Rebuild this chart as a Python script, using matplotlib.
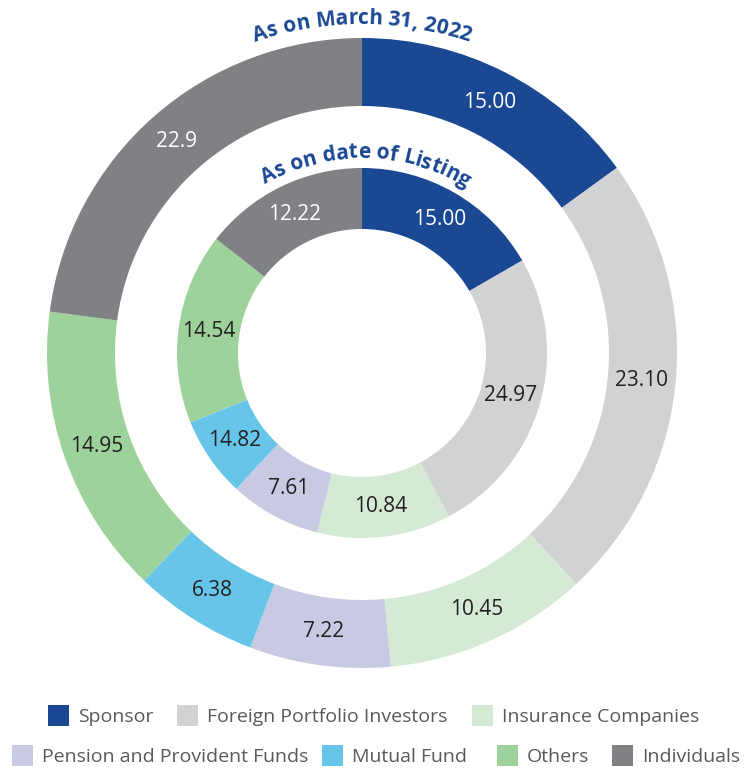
import numpy as np
import matplotlib
matplotlib.use("Agg")
import matplotlib.pyplot as plt
from matplotlib import font_manager as fm
from matplotlib.ft2font import FT2Font
from matplotlib.patches import Rectangle

# Shareholding pattern (%)
categories = ["Sponsor", "Foreign Portfolio Investors", "Insurance Companies",
              "Pension and Provident Funds", "Mutual Fund", "Others", "Individuals"]
colors = ["#1b4893", "#d1d2d4", "#d5ead5", "#c8c9e2", "#68c5ea", "#9ed29b", "#808184"]

# outer ring: as on March 31, 2022
outer_values = [15.00, 23.10, 10.45, 7.22, 6.38, 14.95, 22.9]
outer_labels = ["15.00", "23.10", "10.45", "7.22", "6.38", "14.95", "22.9"]

# inner ring: as on date of listing (slice sizes as drawn, labels as printed)
inner_share = [16.67, 25.56, 11.68, 7.97, 6.99, 16.69, 14.44]
inner_labels = ["15.00", "24.97", "10.84", "7.61", "14.82", "14.54", "12.22"]

BLUE = "#1b4893"
W, H = 744, 769
cx, cy = 362, H - 353

fig = plt.figure(figsize=(W / 100, H / 100), dpi=100)
ax = fig.add_axes([0, 0, 1, 1])

label_fp = fm.FontProperties(family="Open Sans", size=15)
title_fp = fm.FontProperties(family="Open Sans", weight="bold", size=15)
legend_fp = fm.FontProperties(family="Open Sans", size=14)


def ring(values, labels, r_out, width):
    wedges, _ = ax.pie(values, radius=r_out, center=(cx, cy), startangle=90,
                       counterclock=False, colors=colors,
                       wedgeprops=dict(width=width, linewidth=0))
    r_lab = r_out - width / 2
    for w, lab, col in zip(wedges, labels, colors):
        th = np.radians((w.theta1 + w.theta2) / 2)
        tc = "white" if col in ("#1b4893", "#808184") else "#231f20"
        ax.text(cx + r_lab * np.cos(th), cy + r_lab * np.sin(th), lab,
                fontproperties=label_fp, color=tc, ha="center", va="center")


def arc_text(text, radius, mid_deg, fp, color):
    font = FT2Font(fm.findfont(fp))
    font.set_size(fp.get_size_in_points(), 100)
    adv = [font.load_char(ord(c)).linearHoriAdvance / 65536 for c in text]
    pos = -sum(adv) / 2
    for c, a in zip(text, adv):
        th = np.radians(mid_deg) - (pos + a / 2) / radius
        ax.text(cx + radius * np.cos(th), cy + radius * np.sin(th), c,
                fontproperties=fp, color=color, rotation=np.degrees(th) - 90,
                rotation_mode="anchor", ha="center", va="baseline")
        pos += a


ring(outer_values, outer_labels, 315, 68)
ring(inner_share, inner_labels, 185, 61)

arc_text("As on March 31, 2022", 329, 90, title_fp, BLUE)
arc_text("As on date of Listing", 195, 88.8, title_fp, BLUE)

# legend, two rows
box_x = [48, 177, 472, 12, 322, 497, 612]
row_top = [705, 705, 705, 745, 745, 745, 745]
for name, col, x, yt in zip(categories, colors, box_x, row_top):
    ax.add_patch(Rectangle((x, H - yt - 21), 21, 21, color=col, lw=0))
    ax.text(x + 30, H - yt - 17, name, fontproperties=legend_fp,
            color="#58595b", ha="left", va="baseline")

ax.set_xlim(0, W)
ax.set_ylim(0, H)
ax.set_aspect("equal")
ax.axis("off")

fig.savefig("out.png", dpi=100)
plt.close(fig)
